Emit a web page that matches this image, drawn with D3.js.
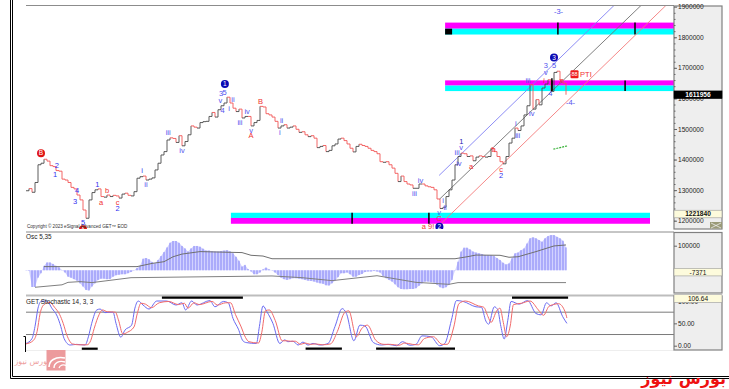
<!DOCTYPE html>
<html>
<head>
<meta charset="utf-8">
<script src="https://d3js.org/d3.v7.min.js"></script>
<style>
  html, body { margin: 0; padding: 0; background: #fff; overflow: hidden; }
  text { font-family: "Liberation Sans", Arial, sans-serif; }
  .axis text { font-size: 6.6px; fill: #222; }
  .axis line, .axis path { stroke: #666; stroke-width: 1; }
</style>
</head>
<body>
<div id="chart"></div>
<script>
// daily closes, one per bar, thousands
const closes = [1298,1305,1293,1325,1383,1388,1401,1395,1380,1377,1364,1362,1336,1333,1325,1309,1304,1284,1268,1235,
  1208,1268,1292,1301,1304,1279,1277,1284,1279,1283,1281,1274,1287,1290,1283,1281,1295,1339,1344,1346,
  1333,1336,1340,1366,1388,1415,1426,1464,1471,1469,1456,1478,1445,1459,1481,1510,1506,1503,1521,1524,
  1525,1541,1554,1539,1563,1576,1585,1604,1585,1568,1557,1565,1536,1541,1541,1510,1521,1528,1574,1572,
  1550,1546,1539,1525,1503,1510,1514,1503,1506,1510,1499,1489,1491,1481,1475,1478,1470,1439,1443,1446,
  1426,1430,1445,1451,1467,1470,1462,1451,1437,1425,1443,1450,1446,1443,1437,1430,1426,1419,1393,1391,
  1393,1383,1372,1355,1328,1346,1328,1320,1317,1306,1306,1320,1320,1314,1311,1309,1301,1271,1240,1244,
  1279,1301,1333,1383,1410,1421,1419,1410,1412,1396,1408,1412,1410,1408,1410,1437,1426,1410,1393,1386,
  1410,1454,1470,1503,1495,1510,1546,1576,1645,1565,1596,1579,1634,1647,1661,1623,1685,1689,1661,1650,1612];

// Osc 5,35 histogram, one per bar, thousands
const oscValues = [-1,-2,-68,-68,-30,-12,18,32,32,26,18,12,1,-9,-26,-30,-36,-42,-53,-66,
  -80,-82,-66,-53,-39,-34,-34,-36,-35,-26,-20,-18,-16,-16,-12,-7,-1,9,18,47,
  50,45,34,28,42,58,74,93,112,119,119,112,99,89,76,89,99,99,96,88,
  80,80,77,76,76,78,80,82,77,69,55,39,15,22,5,-5,-16,-16,-9,4,
  11,4,-1,-9,-19,-30,-36,-39,-36,-32,-32,-34,-36,-39,-42,-43,-46,-50,-53,-55,
  -61,-62,-53,-42,-28,-12,-12,-9,-16,-26,-26,-19,-15,-7,-5,-5,-3,-5,-9,-23,
  -32,-39,-46,-57,-69,-76,-77,-77,-76,-76,-73,-63,-53,-46,-46,-49,-50,-59,-69,-73,
  -69,-59,-39,-1,35,76,92,92,85,76,72,69,66,62,61,61,58,50,42,31,
  24,28,49,69,72,82,89,109,130,134,130,123,116,130,139,143,143,136,130,120,93];

const oscUpperBars = [6,37,42,46,49,52,58,72,75,79,82,143,147,150,158,161,164,170,176,180];
const oscUpperVals = [15,15,28,35,55,66,76,72,61,58,47,47,55,62,61,53,55,76,99,103];
const oscLowerBars = [3,12,14,18,22,35,82,92,102,117,130,141,144,180];
const oscLowerVals = [-69,-59,-49,-46,-50,-30,-23,-30,-42,-22,-49,-57,-50,-50];

// GET Stochastic 14,3,3, read at the turning points of each line
const stochFastBars = [0,2,3,4,5,7,8.6,10.4,11.6,12.7,14.7,16.9,19.7,20.8,21.9,23.6,24.7,26.3,29,30,31.6,33,35.2,36.3,37.4,39,41,43.6,46.9,50,52,53.2,55.2,57,61.3,63,65.8,67.4,69,70.8,72.3,73.4,76.8,77.8,79,80.3,82.3,84.6,86.2,87.3,89,90.7,92.3,94,95.7,98,100.7,103,105.4,106.8,109.3,111.3,113,115.8,118.5,120.7,123.5,125.5,128,130,132,135,137.9,139.6,141.8,143.5,145.7,150,151.8,153.3,154.2,156.1,157.2,158.3,159.4,160.6,161.7,164.4,167.2,170,171.7,173.5,175,176.7,178.9,180.3];
const stochFastVals = [5,16,43,84,99,100,84,66,43,16,1.5,3,1.5,20,50,80,82,74,75,50,19,35,46,84,100,91,82,100,100,91,96,80,100,91,101,87,99,96,61,37,11,7,5,43,89,76,50,5,13,9,10,1.5,8,1.5,5,1.5,5,43,83,72,11,46,44,7,1.5,3,0,9,1,3,22,20,0,5,57,101,99,87,86,55,48,87,81,43,15,57,99,93,101,72,69,96,89,96,65,50];
const stochSlowBars = [0,2.5,3.7,4.7,6,8,9.5,11.2,12.4,13.6,15.5,17.7,20.4,21.6,22.7,24.4,25.5,27.1,29.8,30.8,32.3,33.8,36,37.1,38.3,39.8,41.8,44.4,47.6,50.8,52.8,54,56,57.8,62,63.8,66.6,68.2,69.8,71.6,73.2,74.3,77.5,78.6,79.8,81.1,83.1,85.4,87,88.1,89.8,91.5,93.1,94.8,96.5,98.8,101.5,103.8,106.2,107.6,110.1,112.1,113.8,116.6,119.3,121.5,124.3,126.3,128.8,130.8,132.8,135.8,138.7,140.4,142.6,144.3,146.5,150.8,152.6,154,155,156.9,158,159.1,160.2,161.4,162.5,165.2,168,170.8,172.5,174.3,175.8,177.5,179.7,180.3];
const stochSlowVals = [4,12,32,72,92,97,86,70,50,24,4,2,2,12,38,70,80,76,75,58,26,30,42,72,95,93,85,96,99,92,95,84,96,92,99,91,96,96,70,44,18,9,6,30,78,80,56,11,11,10,10,3,6,3,4,2,4,32,74,78,20,40,46,12,3,3,1,6,3,2,16,20,3,3,42,94,100,89,86,65,52,78,84,52,20,44,92,95,100,80,68,88,92,94,76,62];

// bottom bars of the stochastic panel: start bar, end bar
const stochTopStart = [45.3,162];
const stochTopEnd = [72.3,180.7];
const stochLowStart = [18.6,93.2,116.7];
const stochLowEnd = [23.9,105.3,143];

// regression channel: start, end in bars and price
const channelBarsA = [137.7,137.9,138.4];
const channelBarsB = [196,205,213.3];
const channelPriceA = [1348,1271,1191];
const channelPriceB = [1904,1904,1904];
const channelColors = ["#8080f4","#707070","#f47a7a"];

// zones: first bar, last bar, top, middle, bottom, and black marks
const zoneStart = [139.7,139.7,68.3];
const zoneEnd = [216,216,208];
const zoneTop = [1848,1659,1226];
const zoneMid = [1828,1642,1209];
const zoneBottom = [1809,1624,1190];
const zoneTopColor = ["#ff00ff","#ff00ff","#00ffff"];
const zoneLowColor = ["#00ffff","#00ffff","#ff00ff"];
const zoneMarkBars = [[177.3,203],[175.3,199.7],[108.7,134.3]];

const greenBars = [175.8,178,180.6];
const greenPrices = [1434,1439,1445];

// wave labels: text, bar, price, colour
const blue = "#3030f0", soft = "#5252ee", red = "#f03030";
const waveLabels = [
  ["2",10.3,1380,blue],["1",9.7,1350,blue],["4",17,1300,blue],["3",16.4,1262,blue],["5",19,1193,blue],
  ["1",23.8,1320,blue],["a",25,1259,red],["b",27,1298,red],["c",30.5,1261,red],["2",30.5,1240,blue],
  ["i",38.7,1363,blue],["ii",40,1319,soft],["iii",47.4,1490,soft],["iv",52,1431,soft],
  ["3",65,1615,soft],["5",66.2,1620,soft],["v",64.8,1592,soft],["4",65.5,1562,soft],["ii",69,1596,soft],["i",67.7,1568,soft],["iii",71.3,1520,soft],
  ["iv",73.7,1556,soft],["v",75,1497,soft],["A",75,1478,red],["B",78.2,1589,red],["ii",85.2,1528,soft],["i",84.6,1489,soft],
  ["iv",131.5,1333,soft],["iii",129.5,1290,soft],["i",139,1268,soft],["ii",139.7,1243,soft],["v",137.7,1226,soft],["C",137.7,1207,red],
  ["a 9!",134,1180,red],["1",145.1,1461,"#2020b0"],["v",145,1440,soft],["iii",143.7,1425,soft],["iv",144.3,1389,soft],["a",148.4,1379,red],
  ["b",155.9,1432,red],["c",158.4,1369,red],["2",158.4,1349,blue],["i",163.3,1519,soft],["iii",163.9,1480,soft],["iii",167.3,1660,soft],["iv",168.6,1550,soft],
  ["3",173.3,1709,soft],["v",173.3,1686,soft],["5",176,1707,soft],["4",174.8,1616,soft],["-3-",177.5,1886,soft],["-4-",181.5,1586,soft],
  ["i",172.7,1660,red],["x",178.4,1660,red]
];
const circleLabels = [
  ["B",5,1421,"#e01414"],["A",19,1172,"#e01414"],["1",66.3,1647,"#0a0ab4"],["2",137.8,1180,"#0a0ab4"],["3",176,1734,"#0a0ab4"]
];

const priceTicks = [1200,1300,1400,1500,1600,1700,1800,1900];
const priceMinor = d3.range(1200,1900,20);
const oscTicks = [100];
const stochTicks = [0,50,100];

const width = 729, height = 389, plotLeft = 26, axisLeft = 674, axisRight = 722;

const svg = d3.select("#chart").append("svg")
    .attr("width", width)
    .attr("height", height)
    .style("display", "block");

const x = d3.scaleLinear().domain([0, 216]).range([plotLeft, plotLeft + 216 * 3]);
const yPrice = d3.scaleLinear().domain([1200, 1900]).range([220.7, 6.7]);
const yOsc = d3.scaleLinear().domain([0, 100]).range([270.3, 245.7]);
const yStoch = d3.scaleLinear().domain([0, 100]).range([345.7, 301]);

// clip for the main panel
svg.append("clipPath").attr("id", "mainClip").append("rect")
    .attr("x", plotLeft).attr("y", 6).attr("width", axisLeft - plotLeft).attr("height", 223);

// outer frame
const frame = svg.append("g").attr("stroke", "#000").attr("stroke-width", 1);
[10.5, 12.5].forEach(d => frame.append("line").attr("x1", d).attr("x2", d).attr("y1", 0).attr("y2", d == 10.5 ? 378.5 : 376.5));
[376.5, 378.5].forEach(d => frame.append("line").attr("x1", d == 376.5 ? 12.5 : 10.5).attr("x2", width).attr("y1", d).attr("y2", d));

// panel rules
const rules = svg.append("g").attr("stroke", "#8c8c8c");
rules.append("line").attr("x1", plotLeft).attr("x2", axisLeft).attr("y1", 5.5).attr("y2", 5.5);
rules.append("line").attr("x1", plotLeft).attr("x2", axisLeft).attr("y1", 232).attr("y2", 232);
rules.append("line").attr("x1", plotLeft).attr("x2", axisLeft).attr("y1", 295.5).attr("y2", 295.5).attr("stroke", "#bdbdbd").attr("stroke-width", 2);
rules.append("line").attr("x1", plotLeft).attr("x2", axisLeft).attr("y1", 350.5).attr("y2", 350.5).attr("stroke", "#eee");

// main panel
const main = svg.append("g").attr("clip-path", "url(#mainClip)");

zoneStart.forEach((s, i) => {
  main.append("rect").attr("x", x(s)).attr("width", x(zoneEnd[i]) - x(s))
      .attr("y", yPrice(zoneTop[i])).attr("height", yPrice(zoneMid[i]) - yPrice(zoneTop[i])).attr("fill", zoneTopColor[i]);
  main.append("rect").attr("x", x(s)).attr("width", x(zoneEnd[i]) - x(s))
      .attr("y", yPrice(zoneMid[i])).attr("height", yPrice(zoneBottom[i]) - yPrice(zoneMid[i])).attr("fill", zoneLowColor[i]);
  zoneMarkBars[i].forEach(b => {
    main.append("line").attr("x1", x(b)).attr("x2", x(b))
        .attr("y1", yPrice(zoneTop[i])).attr("y2", yPrice(zoneBottom[i]))
        .attr("stroke", "#000").attr("stroke-width", 1.5);
  });
});
// black square at the start of the top zone
main.append("rect").attr("x", x(zoneStart[0])).attr("width", 7)
    .attr("y", yPrice(zoneMid[0])).attr("height", yPrice(zoneBottom[0]) - yPrice(zoneMid[0])).attr("fill", "#000");

channelBarsA.forEach((b, i) => {
  main.append("line")
      .attr("x1", x(b)).attr("y1", yPrice(channelPriceA[i]))
      .attr("x2", x(channelBarsB[i])).attr("y2", yPrice(channelPriceB[i]))
      .attr("stroke", channelColors[i]).attr("stroke-width", 0.9);
});

// price, stepped: dark when it rises, red when it falls
const priceLine = d3.line().x(d => x(d[0])).y(d => yPrice(d[1])).curve(d3.curveStepAfter);
closes.forEach((c, i) => {
  if (i == 0) return;
  main.append("path")
      .attr("d", priceLine([[i - 1, closes[i - 1]], [i, c]]))
      .attr("fill", "none")
      .attr("stroke", c >= closes[i - 1] ? "#4a4a4a" : "#f25656")
      .attr("stroke-width", 0.9);
});

// thick mark on the last up swing
main.append("line").attr("x1", x(175.3)).attr("x2", x(175.3))
    .attr("y1", yPrice(1666)).attr("y2", yPrice(1624)).attr("stroke", "#000").attr("stroke-width", 1.5);

main.append("path")
    .attr("d", d3.line().x((d, i) => x(greenBars[i])).y(d => yPrice(d))(greenPrices))
    .attr("fill", "none").attr("stroke", "#35b035").attr("stroke-width", 1.2).attr("stroke-dasharray", "2 1");

main.selectAll(".wave").data(waveLabels).enter().append("text")
    .attr("x", d => x(d[1])).attr("y", d => yPrice(d[2]) + 2.6)
    .attr("text-anchor", "middle").attr("font-size", 7.5).attr("fill", d => d[3])
    .text(d => d[0]);

const circles = main.selectAll(".circ").data(circleLabels).enter().append("g")
    .attr("transform", d => `translate(${x(d[1])},${yPrice(d[2])})`);
circles.append("circle").attr("r", 4).attr("fill", d => d[3]);
circles.append("text").attr("y", 2.3).attr("text-anchor", "middle").attr("font-size", 6.5)
    .attr("fill", "#fff").text(d => d[0]);

// PTI tag
main.append("rect").attr("x", x(181.5)).attr("y", yPrice(1692)).attr("width", 8).attr("height", 8).attr("fill", "#ee1c1c").attr("rx", 1);
main.append("text").attr("x", x(182.85)).attr("y", yPrice(1692) + 6).attr("text-anchor", "middle")
    .attr("font-size", 5.5).attr("fill", "#fff").text("88");
main.append("text").attr("x", x(184.7)).attr("y", yPrice(1680) + 2.6).attr("font-size", 7.5).attr("fill", "#f03030").text("PTI");

svg.append("text").attr("x", 27).attr("y", 228).attr("font-size", 4.6).attr("fill", "#333")
    .text("Copyright © 2023 eSignal Advanced GET™ EOD");

// oscillator panel
const oscPanel = svg.append("g");
oscPanel.append("path")
    .attr("d", d3.area().x((d, i) => x(i)).y0(yOsc(0)).y1(d => yOsc(d))(oscValues))
    .attr("fill", "#d2d2ff");
oscPanel.selectAll("line").data(oscValues).enter().append("line")
    .attr("x1", (d, i) => x(i)).attr("x2", (d, i) => x(i))
    .attr("y1", yOsc(0)).attr("y2", d => yOsc(d))
    .attr("stroke", "#8484f6").attr("stroke-width", 1);
const bandLine = bars => d3.line().x((d, i) => x(bars[i])).y(d => yOsc(d));
oscPanel.append("path").attr("d", bandLine(oscUpperBars)(oscUpperVals))
    .attr("fill", "none").attr("stroke", "#707070").attr("stroke-width", 1);
oscPanel.append("path").attr("d", bandLine(oscLowerBars)(oscLowerVals))
    .attr("fill", "none").attr("stroke", "#808080").attr("stroke-width", 1);
svg.append("text").attr("x", 26).attr("y", 239).attr("font-size", 6.4).attr("fill", "#222").text("Osc 5,35");

// stochastic panel
const stochPanel = svg.append("g");
[75, 25].forEach(d => {
  stochPanel.append("line").attr("x1", plotLeft).attr("x2", axisLeft)
      .attr("y1", yStoch(d)).attr("y2", yStoch(d)).attr("stroke", "#7a7a7a");
});
const stochLine = bars => d3.line().x((d, i) => x(bars[i])).y(d => yStoch(d)).curve(d3.curveMonotoneX);
stochPanel.append("path").attr("d", stochLine(stochFastBars)(stochFastVals))
    .attr("fill", "none").attr("stroke", "#6a6af2").attr("stroke-width", 1);
stochPanel.append("path").attr("d", stochLine(stochSlowBars)(stochSlowVals))
    .attr("fill", "none").attr("stroke", "#f26a6a").attr("stroke-width", 1);
stochTopStart.forEach((s, i) => {
  stochPanel.append("line").attr("x1", x(s)).attr("x2", x(stochTopEnd[i]))
      .attr("y1", 297.7).attr("y2", 297.7).attr("stroke", "#000").attr("stroke-width", 2.2);
});
stochLowStart.forEach((s, i) => {
  stochPanel.append("line").attr("x1", x(s)).attr("x2", x(stochLowEnd[i]))
      .attr("y1", 348.7).attr("y2", 348.7).attr("stroke", "#000").attr("stroke-width", 2.2);
});
svg.append("text").attr("x", 26).attr("y", 304).attr("font-size", 6.4).attr("fill", "#222").text("GET  Stochastic 14, 3, 3");

// right axis boxes
[[6, 229], [232.5, 293], [296, 350]].forEach(d => {
  svg.append("rect").attr("x", axisLeft).attr("y", d[0]).attr("width", axisRight - axisLeft).attr("height", d[1] - d[0])
      .attr("fill", "#eeeeee").attr("stroke", "#808080").attr("stroke-width", 1.2);
});

const minorAxis = (scale, vals) => svg.append("g").attr("class", "axis")
    .attr("transform", `translate(${axisLeft},0)`)
    .call(d3.axisRight(scale).tickValues(vals).tickSize(1.5).tickFormat(""))
    .call(g => g.select(".domain").remove());
minorAxis(yPrice, priceMinor);

const axisMain = svg.append("g").attr("class", "axis").attr("transform", `translate(${axisLeft},0)`)
    .call(d3.axisRight(yPrice).tickValues(priceTicks).tickSize(3).tickPadding(1).tickFormat(d => d3.format("d")(d * 1000)));
const axisOsc = svg.append("g").attr("class", "axis").attr("transform", `translate(${axisLeft},0)`)
    .call(d3.axisRight(yOsc).tickValues(oscTicks).tickSize(3).tickPadding(1).tickFormat(d => d3.format("d")(d * 1000)));
const axisStoch = svg.append("g").attr("class", "axis").attr("transform", `translate(${axisLeft},0)`)
    .call(d3.axisRight(yStoch).tickValues(stochTicks).tickSize(3).tickPadding(1).tickFormat(d3.format(".2f")));
[axisMain, axisOsc, axisStoch].forEach(g => g.select(".domain").remove());

// value flags
const flags = [
  ["1611956", yPrice(closes[closes.length - 1]), "#000", "#fff", true],
  ["1221840", yPrice(1221.84), "#fdfbdc", "#111", true],
  ["-7371", yOsc(-7.371), "#fdfbdc", "#111", false],
  ["106.64", 298.5, "#fdfbdc", "#111", false]
];
flags.forEach(d => {
  svg.append("rect").attr("x", axisLeft).attr("y", d[1] - 3.8).attr("width", axisRight - axisLeft).attr("height", 7.6)
      .attr("fill", d[2]).attr("stroke", d[2] == "#000" ? "#000" : "#999").attr("stroke-width", 0.6);
  svg.append("text").attr("x", (axisLeft + axisRight) / 2).attr("y", d[1] + 2.4).attr("text-anchor", "middle")
      .attr("font-size", 6.6).attr("font-weight", d[4] ? "bold" : "normal").attr("fill", d[3]).text(d[0]);
});

// small toolbox corner
svg.append("rect").attr("x", 710).attr("y", 222).attr("width", 12).attr("height", 6.5).attr("fill", "#9a9a78");
svg.append("path").attr("d", "M711,223L721,228M721,223L711,228").attr("stroke", "#eee").attr("stroke-width", 0.8);

// bracket at the bottom left
svg.append("path").attr("d", "M23.5,336.5H25.5V352").attr("fill", "none").attr("stroke", "#000").attr("stroke-width", 1);

// watermark logo
const logo = svg.append("g");
logo.append("rect").attr("x", 46.5).attr("y", 350).attr("width", 19).attr("height", 20.5).attr("fill", "#ec9a9c");
logo.append("path").attr("d", "M65,358C55,356 49,361 49,367").attr("fill", "none").attr("stroke", "#fff").attr("stroke-width", 1.6);
logo.append("path").attr("d", "M65,362C59,360 54,363 54,368").attr("fill", "none").attr("stroke", "#fff").attr("stroke-width", 1.4);
logo.append("path").attr("d", "M67,366C63,364 60,365 59,368").attr("fill", "none").attr("stroke", "#fff").attr("stroke-width", 1.2);
logo.append("text").attr("x", 32).attr("y", 364).attr("text-anchor", "middle")
    .style("font-family", "'DejaVu Sans'").attr("font-size", 8).attr("fill", "#eea0a0").text("بورس نیوز");

svg.append("text").attr("x", 726).attr("y", 384).attr("text-anchor", "end")
    .style("font-family", "'DejaVu Sans'").attr("font-weight", "bold").attr("font-size", 16).attr("fill", "#ee1111").text("بورس نیوز");
</script>
</body>
</html>
